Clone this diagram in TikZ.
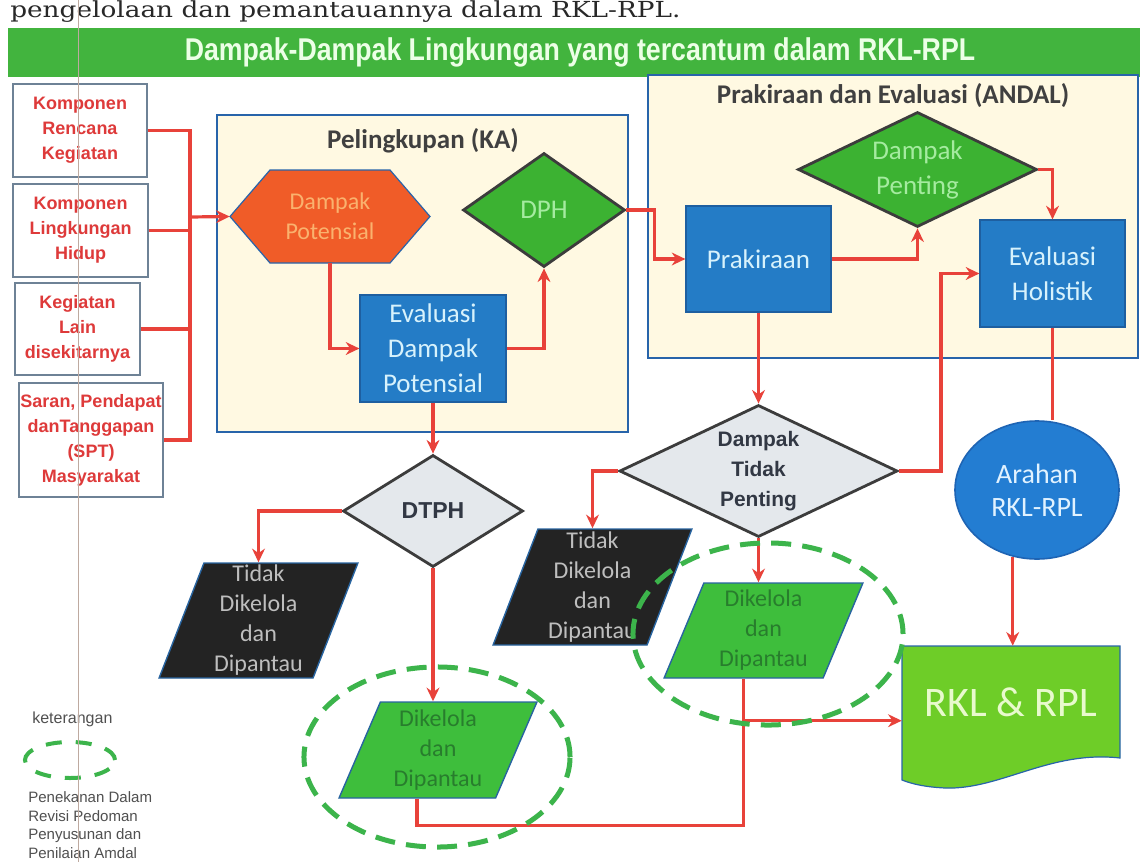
\documentclass[tikz,border=0pt]{standalone}
\usepackage{fontspec}
\setmainfont{Carlito}
\newfontfamily\arialf{Liberation Sans}
\newfontfamily\serff{DejaVu Serif}
\usepackage{graphicx}
\usetikzlibrary{shapes.geometric,arrows.meta,calc}
\newcommand\myfs[2]{\fontsize{#1pt}{#2pt}\selectfont}
\newcommand\arb{\arialf\bfseries}
\def\pxu{*0.025cm}
\definecolor{cred}{RGB}{232,66,58}
\definecolor{redtxt}{RGB}{222,58,58}
\definecolor{boxgray}{RGB}{110,130,150}
\definecolor{cream}{RGB}{255,249,226}
\definecolor{cblue}{RGB}{40,100,170}
\definecolor{bbox}{RGB}{36,124,198}
\definecolor{bboxd}{RGB}{30,95,160}
\definecolor{btxt}{RGB}{215,242,252}
\definecolor{hexfill}{RGB}{240,92,40}
\definecolor{hextxt}{RGB}{250,178,110}
\definecolor{dgreen}{RGB}{60,178,50}
\definecolor{lgreen}{RGB}{165,235,160}
\definecolor{dgrey}{RGB}{60,60,60}
\definecolor{lgray}{RGB}{228,232,236}
\definecolor{dslate}{RGB}{50,56,68}
\definecolor{pblack}{RGB}{35,35,35}
\definecolor{pblue}{RGB}{40,100,160}
\definecolor{ptxt}{RGB}{190,190,190}
\definecolor{pgreen}{RGB}{62,190,60}
\definecolor{pgtxt}{RGB}{40,125,45}
\definecolor{circ}{RGB}{35,125,210}
\definecolor{circd}{RGB}{30,100,180}
\definecolor{circtxt}{RGB}{225,242,255}
\definecolor{rklfill}{RGB}{110,205,40}
\definecolor{rkltxt}{RGB}{232,250,205}
\definecolor{hlgreen}{RGB}{60,180,75}
\definecolor{bargreen}{RGB}{66,180,62}
\definecolor{bartxt}{RGB}{236,255,230}
\definecolor{titletxt}{RGB}{64,64,64}
\definecolor{legtxt}{RGB}{80,80,80}
\definecolor{toptxt}{RGB}{40,40,40}
\definecolor{scan}{RGB}{190,170,160}
\begin{document}
\begin{tikzpicture}[x=0.025cm,y=-0.025cm,
  conn/.style={draw=cred, line width=0.08cm},
  arr/.style={conn, -{Stealth[length=0.34cm,width=0.32cm]}},
  inbox/.style={rectangle, draw=boxgray, line width=0.03cm, fill=white, text=redtxt, align=center, inner sep=0, font=\arb\myfs{12.8}{17.8}},
  container/.style={rectangle, draw=cblue, line width=0.06cm, fill=cream, inner sep=0},
  ctitle/.style={anchor=base, inner sep=0, text=titletxt, font=\bfseries\myfs{19.2}{24}},
  bluebox/.style={rectangle, fill=bbox, draw=bboxd, line width=0.03cm, text=btxt, align=center, inner sep=0, font=\myfs{19.2}{24.9}},
  gdiam/.style={diamond, aspect=2, fill=dgreen, draw=dgrey, line width=0.07cm, text=lgreen, align=center, inner sep=0},
  wdiam/.style={diamond, aspect=2, fill=lgray, draw=dgrey, line width=0.07cm, text=dslate, align=center, inner sep=0},
  para/.style={trapezium, trapezium stretches=true, inner sep=0, align=center, line width=0.035cm, font=\myfs{17.1}{21.3}},
  blackpara/.style={para, fill=pblack, draw=pblue, text=ptxt},
  greenpara/.style={para, fill=pgreen, draw=pblue, text=pgtxt},
  hl/.style={draw=hlgreen, line width=0.125cm, dash pattern=on 0.5cm off 0.28cm},
  hlsmall/.style={draw=hlgreen, line width=0.1cm, dash pattern=on 0.4cm off 0.35cm},
]
\useasboundingbox (0,0) rectangle (1140,862);
\fill[white] (0,0) rectangle (1140,862);

% top text and title bar
\node[anchor=base west, inner sep=0, text=toptxt] (toptext) at (10,17) {\resizebox{16.75cm}{0.42cm}{\serff pengelolaan dan pemantauannya dalam RKL-RPL.}};
\fill[bargreen] (8,28) rectangle (1140,77);
\node[anchor=base, inner sep=0, text=bartxt] (title) at (580,60) {\resizebox{19.75cm}{0.57cm}{\arb Dampak-Dampak Lingkungan yang tercantum dalam RKL-RPL}};

% containers
\node[container, minimum width=411\pxu, minimum height=317\pxu] (ka) at (422.5,273.5) {};
\node[container, minimum width=490\pxu, minimum height=283\pxu] (andal) at (893,216.5) {};
\node[ctitle] (katitle) at (423,148) {Pelingkupan (KA)};
\node[ctitle] (andaltitle) at (893,103) {Prakiraan dan Evaluasi (ANDAL)};

% input boxes
\node[inbox, minimum width=134\pxu, minimum height=93\pxu] (b1) at (80,130.5) {Komponen\\Rencana\\Kegiatan};
\node[inbox, minimum width=135\pxu, minimum height=93\pxu] (b2) at (80.5,230.5) {Komponen\\Lingkungan\\Hidup};
\node[inbox, minimum width=125\pxu, minimum height=92\pxu] (b3) at (77.5,329) {Kegiatan\\Lain\\disekitarnya};
\node[inbox, minimum width=144\pxu, minimum height=114\pxu] (b4) at (91,440) {Saran, Pendapat\\danTanggapan\\(SPT)\\Masyarakat};

% hexagon
\coordinate (hexc) at (330,216.5);
\draw[fill=hexfill, draw=cblue, line width=0.03cm] ($(hexc)+(-100,0)$) -- ($(hexc)+(-60,-46.5)$) -- ($(hexc)+(60,-46.5)$) -- ($(hexc)+(100,0)$) -- ($(hexc)+(60,46.5)$) -- ($(hexc)+(-60,46.5)$) -- cycle;
\node[minimum width=200\pxu, minimum height=93\pxu, inner sep=0, text=hextxt, align=center, font=\myfs{17.1}{21.3}] (hex) at (hexc) {Dampak\\Potensial};

% blue boxes
\node[bluebox, minimum width=146\pxu, minimum height=107\pxu] (evp) at (433,348.5) {Evaluasi\\Dampak\\Potensial};
\node[bluebox, minimum width=145\pxu, minimum height=106\pxu] (prak) at (758.5,259) {Prakiraan};
\node[bluebox, minimum width=145\pxu, minimum height=107\pxu] (holis) at (1052.5,273.5) {Evaluasi\\Holistik};

% diamonds
\node[gdiam, minimum width=162\pxu, minimum height=114\pxu, font=\myfs{19.2}{24}] (dph) at (544,210) {DPH};
\node[gdiam, minimum width=239\pxu, minimum height=115\pxu, font=\myfs{19.2}{24.9}] (dp) at (917.5,169.5) {Dampak\\Penting};
\node[wdiam, minimum width=278\pxu, minimum height=132\pxu, font=\arb\myfs{14.9}{21.3}] (dtp) at (758.5,471) {Dampak\\Tidak\\Penting};
\node[wdiam, minimum width=180\pxu, minimum height=112\pxu, font=\arb\myfs{16.4}{20}] (dtph) at (433,511) {DTPH};

% Arahan
\node[ellipse, fill=circ, draw=circd, line width=0.04cm, minimum width=164\pxu, minimum height=138\pxu, inner sep=0, text=circtxt, align=center, font=\myfs{19.9}{23.5}] (arahan) at (1037,490) {Arahan\\RKL-RPL};

% parallelograms
\node[blackpara, trapezium left angle=71.7, trapezium right angle=108.3, minimum width=199\pxu, minimum height=115\pxu] (bl) at (258.5,620.5) {Tidak\\Dikelola\\dan\\Dipantau};
\node[blackpara, trapezium left angle=71.7, trapezium right angle=108.3, minimum width=199\pxu, minimum height=116\pxu] (bm) at (592.5,587) {Tidak\\Dikelola\\dan\\Dipantau};
\node[greenpara, trapezium left angle=68.4, trapezium right angle=111.6, minimum width=198\pxu, minimum height=96\pxu] (gl) at (438,750) {Dikelola\\dan\\Dipantau};
\node[greenpara, trapezium left angle=69.8, trapezium right angle=110.2, minimum width=199\pxu, minimum height=95\pxu] (gr) at (763.5,630.5) {Dikelola\\dan\\Dipantau};

% RKL & RPL document
\draw[fill=rklfill, draw=cblue, line width=0.03cm] (902,646) -- (1120,646) -- (1120,758) .. controls (1050,750) and (1000,790) .. (945,788) .. controls (925,787) and (912,784) .. (902,780) -- cycle;
\node[minimum width=218\pxu, minimum height=112\pxu, inner sep=0, text=rkltxt, font=\myfs{29.9}{32}] (rkl) at (1011,702) {RKL \& RPL};

% connectors
\coordinate (bus) at (190,217);
\draw[conn] (b1.east) -| (bus);
\draw[conn] (b4.east) -| (bus);
\draw[conn] (b2.east) -- (b2.east -| bus);
\draw[conn] (b3.east) -- (b3.east -| bus);
\draw[arr] (bus) -- (hex.west);
\draw[arr] (hex.south) |- (evp.west);
\draw[arr] (evp.east) -| (dph.south);
\draw[arr] (dph.east) -- ++(28,0) |- (prak.west);
\draw[arr] (prak.east) -| (dp.south);
\draw[arr] (dp.east) -| (holis.north);
\draw[arr] (evp.south) -- (dtph.north);
\draw[arr] (prak.south) -- (dtp.north);
\draw[arr] (dtp.east) -- ++(42,0) |- (holis.west);
\draw[conn] (holis.south) -- (holis.south |- arahan.north);
\draw[arr] (arahan.-110) -- (arahan.-110 |- rkl.north);
\draw[arr] (dtph.west) -| (bl.north);
\draw[arr] (dtph.south) -- (dtph.south |- gl.north);
\draw[arr] (dtp.west) -| (bm.north);
\draw[arr] (dtp.south) -- (dtp.south |- gr.north);
\coordinate (j) at ($(gr.bottom side)+(0,42)$);
\coordinate (k) at ($(j)+(0,105)$);
\draw[conn] (gr.bottom side) -- (j);
\draw[arr] (j) -- (j -| rkl.west);
\draw[conn] (gl.bottom side) |- (k) -- (j);

% highlights
\draw[hl] (437,757) ellipse [x radius=3.325cm, y radius=2.25cm];
\draw[hl] (768,634) ellipse [x radius=3.375cm, y radius=2.275cm];

% legend
\node[anchor=base west, inner sep=0, text=legtxt, font=\arialf\myfs{11.4}{13}] (ket) at (32,723) {keterangan};
\draw[hlsmall] (70,760) ellipse [x radius=1.125cm, y radius=0.45cm];
\node[anchor=west, align=left, inner sep=0, text=legtxt, font=\arialf\myfs{10.7}{13.2}] (legtext) at (28,825) {Penekanan Dalam\\Revisi Pedoman\\Penyusunan dan\\Penilaian Amdal};

% scan line
\draw[scan, line width=0.02cm] (78,0) -- (78,862);
\end{tikzpicture}
\end{document}
